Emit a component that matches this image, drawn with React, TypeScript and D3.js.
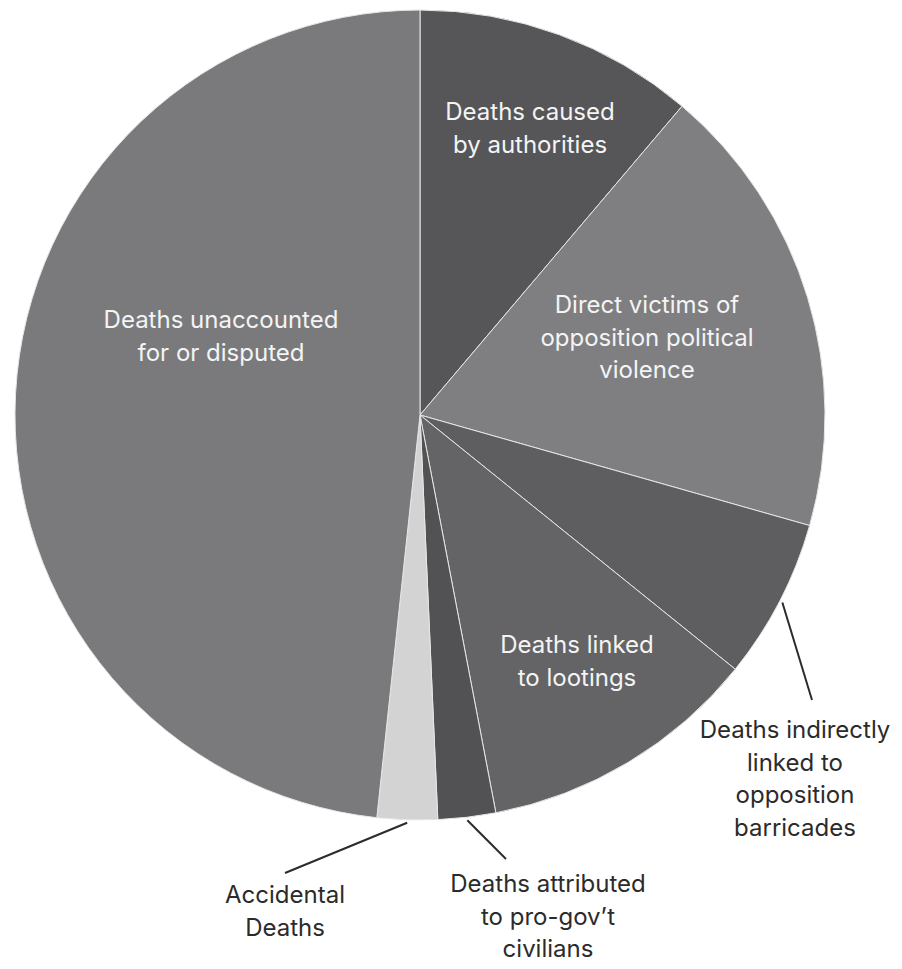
import React from "react";
import * as d3 from "d3";

// Share of deaths by category (percent), clockwise from 12 o'clock
const categories = [
  "Deaths caused by authorities",
  "Direct victims of opposition political violence",
  "Deaths indirectly linked to opposition barricades",
  "Deaths linked to lootings",
  "Deaths attributed to pro-gov't civilians",
  "Accidental Deaths",
  "Deaths unaccounted for or disputed",
];
const shares = [11.2, 18.2, 6.4, 11.2, 2.3, 2.4, 48.3];
const sliceColors = ["#565658", "#7f7f81", "#5e5e60", "#646466", "#525254", "#d3d3d3", "#7a7a7c"];

// Multi-line label text per slice
const labelLines = [
  ["Deaths caused", "by authorities"],
  ["Direct victims of", "opposition political", "violence"],
  ["Deaths indirectly", "linked to", "opposition", "barricades"],
  ["Deaths linked", "to lootings"],
  ["Deaths attributed", "to pro-gov\u2019t", "civilians"],
  ["Accidental", "Deaths"],
  ["Deaths unaccounted", "for or disputed"],
];

const W = 902;
const H = 969;
const CX = 420;
const CY = 415;
const R = 405;
const LINE_H = 32.5;

// label layout: anchor x, first baseline y, inside/outside, leader end (outside only)
type LabelPos = { x: number; y: number; inside: boolean; leader?: [number, number] };
const labelPos: LabelPos[] = [
  { x: 530, y: 120, inside: true },
  { x: 647, y: 313, inside: true },
  { x: 795, y: 738, inside: false, leader: [812, 700] },
  { x: 577, y: 653, inside: true },
  { x: 548, y: 892, inside: false, leader: [506, 859] },
  { x: 285, y: 903, inside: false, leader: [285, 873] },
  { x: 221, y: 328, inside: true },
];

export default function App() {
  const pie = d3
    .pie<number>()
    .sort(null)
    .value((d) => d)
    .startAngle(0)
    .endAngle(2 * Math.PI);
  const arcs = pie(shares);
  const arc = d3.arc<d3.PieArcDatum<number>>().innerRadius(0).outerRadius(R);

  const font = "Inter, 'Liberation Sans', Arial, sans-serif";

  return (
    <div style={{ position: "absolute", left: 0, top: 0, width: W, height: H, background: "#fff" }}>
      <svg width={W} height={H} style={{ display: "block" }}>
        <g transform={`translate(${CX},${CY})`}>
          {arcs.map((a, i) => (
            <path
              key={categories[i]}
              d={arc(a) || ""}
              fill={sliceColors[i]}
              stroke="#e6e6e6"
              strokeWidth={1}
              strokeLinejoin="round"
            />
          ))}
          {arcs.map((a, i) => {
            const lp = labelPos[i];
            if (!lp.leader) return null;
            const mid = (a.startAngle + a.endAngle) / 2;
            const r0 = R + 3;
            const x0 = Math.sin(mid) * r0;
            const y0 = -Math.cos(mid) * r0;
            return (
              <line
                key={"leader-" + i}
                x1={x0}
                y1={y0}
                x2={lp.leader[0] - CX}
                y2={lp.leader[1] - CY}
                stroke="#2b2b2b"
                strokeWidth={2}
              />
            );
          })}
        </g>
        {labelLines.map((lines, i) => {
          const lp = labelPos[i];
          return (
            <text
              key={"label-" + i}
              x={lp.x}
              y={lp.y}
              textAnchor="middle"
              fontFamily={font}
              fontSize={24}
              fill={lp.inside ? "#f4f4f4" : "#2b2b2b"}
            >
              {lines.map((t, j) => (
                <tspan key={j} x={lp.x} y={lp.y + j * LINE_H}>
                  {t}
                </tspan>
              ))}
            </text>
          );
        })}
      </svg>
    </div>
  );
}
